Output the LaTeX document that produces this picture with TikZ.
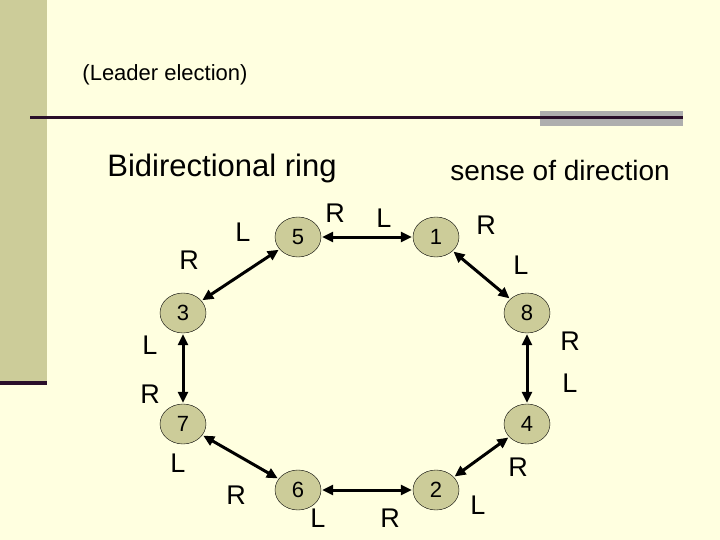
\documentclass[tikz,border=0pt]{standalone}
\usepackage{fontspec}
\setmainfont{Liberation Sans}
\usetikzlibrary{shapes.geometric,arrows.meta}
\definecolor{bg}{HTML}{FFFFE0}
\definecolor{olive}{HTML}{CCCC99}
\definecolor{maroon}{HTML}{2A0F2A}
\definecolor{greyb}{HTML}{AEAEAE}
\tikzset{
 proc/.style={ellipse,draw=black,thin,fill=olive,minimum width=46pt,minimum height=40pt,inner sep=0pt,font=\fontsize{22}{22}\selectfont},
 lab/.style={font=\fontsize{27}{27}\selectfont},
 link/.style={line width=3pt,{Triangle[length=11pt,width=10pt]}-{Triangle[length=11pt,width=10pt]},shorten <=1pt,shorten >=1pt}
}
\begin{document}
\begin{tikzpicture}[x=1pt,y=-1pt]
\fill[bg] (0,0) rectangle (720,540);
\useasboundingbox (0,0) rectangle (720,540);
\fill[olive] (0,0) rectangle (47,383);
\fill[maroon] (0,381) rectangle (47,385);
\fill[greyb] (540,111) rectangle (683,126);
\draw[maroon,line width=3pt] (30,117.5) -- (683,117.5);
\node[font=\fontsize{22}{22}\selectfont] (title) at (165,75) {(Leader election)};
\node[font=\fontsize{31}{31}\selectfont] (bi) at (222,168) {Bidirectional ring};
\node[font=\fontsize{28}{28}\selectfont] (sd) at (560,170) {sense of direction};
\node[proc] (n5) at (298,237) {5};
\node[proc] (n1) at (436,237) {1};
\node[proc] (n8) at (527,313) {8};
\node[proc] (n4) at (527,424) {4};
\node[proc] (n2) at (436,490) {2};
\node[proc] (n6) at (298,490) {6};
\node[proc] (n7) at (183,424) {7};
\node[proc] (n3) at (183,313) {3};
\draw[link] (n5) -- (n1);
\draw[link] (n1) -- (n8);
\draw[link] (n8) -- (n4);
\draw[link] (n4) -- (n2);
\draw[link] (n2) -- (n6);
\draw[link] (n6) -- (n7);
\draw[link] (n7) -- (n3);
\draw[link] (n3) -- (n5);
\node[lab] (a1) at (243,232) {L};
\node[lab] (a2) at (335,213) {R};
\node[lab] (a3) at (384,218) {L};
\node[lab] (a4) at (486,225) {R};
\node[lab] (a5) at (521,265) {L};
\node[lab] (a6) at (570,341) {R};
\node[lab] (a7) at (570,383) {L};
\node[lab] (a8) at (518,467) {R};
\node[lab] (a9) at (478,505) {L};
\node[lab] (a10) at (390,518) {R};
\node[lab] (a11) at (318,518) {L};
\node[lab] (a12) at (236,495) {R};
\node[lab] (a13) at (178,463) {L};
\node[lab] (a14) at (150,394) {R};
\node[lab] (a15) at (150,345) {L};
\node[lab] (a16) at (189,260) {R};
\end{tikzpicture}
\end{document}
